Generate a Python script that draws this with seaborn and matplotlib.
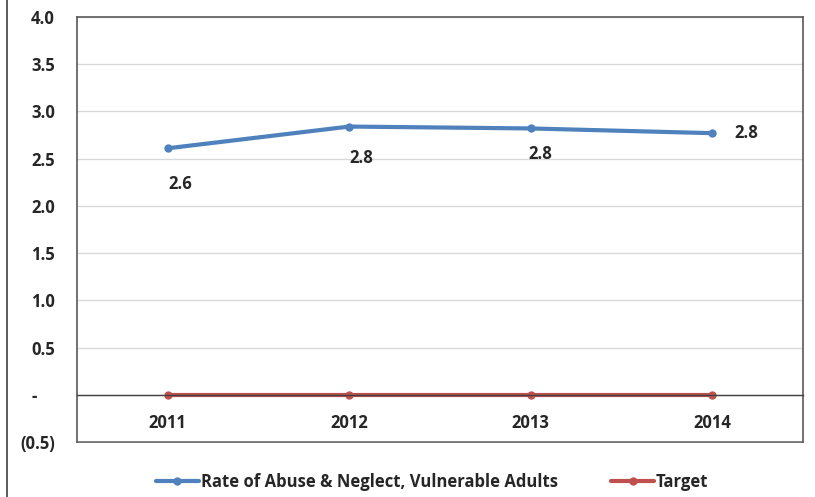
import pandas as pd
import seaborn as sns
import matplotlib.pyplot as plt
from matplotlib.lines import Line2D

sns.set_style('white')
plt.rcParams['font.family'] = ['Open Sans', 'DejaVu Sans']
plt.rcParams['font.weight'] = 'bold'

years = ['2011', '2012', '2013', '2014']
rate = [2.61, 2.84, 2.82, 2.77]
target = [0.0, 0.0, 0.0, 0.0]
rate_name = 'Rate of Abuse & Neglect, Vulnerable Adults'
target_name = 'Target'
y_ticks = [-0.5, 0.0, 0.5, 1.0, 1.5, 2.0, 2.5, 3.0, 3.5, 4.0]
y_tick_labels = ['(0.5)', '-    ', '0.5', '1.0', '1.5', '2.0', '2.5', '3.0', '3.5', '4.0']

df = pd.DataFrame({
    'year': years * 2,
    'value': rate + target,
    'series': [rate_name] * len(years) + [target_name] * len(years),
})

BLUE = '#4F81BD'
RED = '#C0504D'
W, H = 815, 497
FS = 12

fig, ax = plt.subplots(figsize=(W / 100, H / 100), dpi=100)
fig.subplots_adjust(left=77 / W, right=803 / W, top=1 - 17 / H, bottom=1 - 442 / H)

sns.lineplot(data=df, x='year', y='value', hue='series',
             palette={rate_name: BLUE, target_name: RED},
             marker='o', markersize=6, markeredgewidth=0, linewidth=3,
             ax=ax, legend=False, sort=False)

ax.set_xlim(-0.5, 3.5)
ax.set_ylim(-0.5, 4.0)
ax.set_yticks(y_ticks)
ax.set_yticklabels(y_tick_labels)
ax.yaxis.grid(True, color='#D9D9D9', linewidth=1)
ax.set_axisbelow(True)
ax.tick_params(axis='y', length=0, pad=16, labelsize=FS)
ax.tick_params(axis='x', length=0, pad=14, labelsize=FS)
for lab in ax.get_xticklabels() + ax.get_yticklabels():
    lab.set_fontweight('bold')
ax.set_xlabel('')
ax.set_ylabel('')

# frame: x axis crosses at zero, box drawn around the plot area
for side in ['left', 'right', 'top', 'bottom']:
    ax.spines[side].set_visible(True)
    ax.spines[side].set_color('#595959')
    ax.spines[side].set_linewidth(1.2)
ax.spines['bottom'].set_position(('data', 0))
ax.spines['bottom'].set_color('#404040')
ax.spines['bottom'].set_linewidth(1)
ax.axhline(-0.5, color='#595959', linewidth=1.2, clip_on=False, zorder=0)

# data labels
offsets = [(13, -36), (12, -31), (10, -26), (34, 0)]
for i, (v, off) in enumerate(zip(rate, offsets)):
    ax.annotate(f'{v:.1f}', (i, v), xytext=off, textcoords='offset pixels',
                ha='center', va='center', fontsize=FS, fontweight='bold')

handles = [Line2D([], [], color=BLUE, lw=3, marker='o', markersize=6, markeredgewidth=0),
           Line2D([], [], color=RED, lw=3, marker='o', markersize=6, markeredgewidth=0)]
fig.legend(handles, [rate_name, target_name], loc='center', bbox_to_anchor=(0.53, 1 - 482 / H),
           ncol=2, frameon=False, handlelength=2.6, handletextpad=0.1,
           columnspacing=3.2, prop={'weight': 'bold', 'size': FS})

fig.add_artist(Line2D([7 / W, 7 / W], [0, 1], transform=fig.transFigure, color='#404040', lw=1.2))

fig.savefig('out.png', dpi=100)
